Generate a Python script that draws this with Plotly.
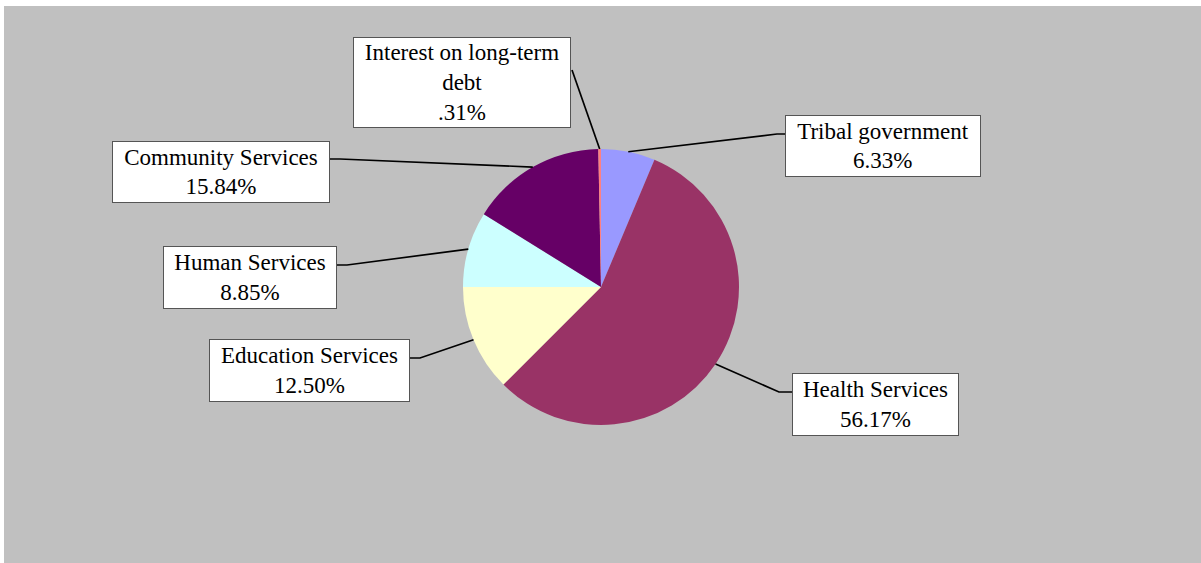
import math
import textwrap
import plotly.graph_objects as go

# ---- data (clockwise from 12 o'clock) ----
categories = ["Tribal government", "Health Services", "Education Services",
              "Human Services", "Community Services", "Interest on long-term debt"]
percent_values = [6.33, 56.17, 12.50, 8.85, 15.84, 0.31]
slice_colors = ["#9999FF", "#993366", "#FFFFCC", "#CCFFFF", "#660066", "#FF8080"]

# ---- layout constants (pixels) ----
W, H = 1201, 563
CX, CY, R = 601, 287, 138
FONT = "Liberation Serif"
FS = 23

# label boxes: (center_x, center_y, width, height) and leader elbow points
label_boxes = {
    "Tribal government": (883, 146, 196, 62),
    "Health Services": (875.5, 404.5, 167, 63),
    "Education Services": (309.5, 370.5, 201, 63),
    "Human Services": (250, 277.5, 174, 63),
    "Community Services": (221, 172, 218, 62),
    "Interest on long-term debt": (462, 82.5, 218, 91),
}
leader_ends = {
    "Tribal government": [(777, 134), (785, 134)],
    "Health Services": [(779, 392), (792, 392)],
    "Education Services": [(420, 358), (410, 358)],
    "Human Services": [(347, 265), (337, 265)],
    "Community Services": [(340, 159), (330, 159)],
    "Interest on long-term debt": [(572, 70)],
}


def px(x):
    return x / W


def py(y):
    return (H - y) / H


def fmt_pct(v):
    s = f"{v:.2f}"
    if s.startswith("0."):
        s = s[1:]
    return s + "%"


fig = go.Figure(go.Pie(
    labels=categories,
    values=percent_values,
    sort=False,
    direction="clockwise",
    rotation=0,
    marker=dict(colors=slice_colors, line=dict(width=0)),
    textinfo="none",
    hoverinfo="label+percent",
    showlegend=False,
    domain=dict(x=[px(CX - R), px(CX + R)], y=[py(CY + R), py(CY - R)]),
))

shapes = [
    dict(type="rect", xref="paper", yref="paper", x0=0, x1=1, y0=py(6), y1=1,
         fillcolor="white", line=dict(width=0), layer="above"),
    dict(type="rect", xref="paper", yref="paper", x0=0, x1=px(4), y0=0, y1=1,
         fillcolor="white", line=dict(width=0), layer="above"),
]
annotations = []

total = sum(percent_values)
cum = 0.0
for name, val in zip(categories, percent_values):
    mid = (cum + val / 2) / total * 2 * math.pi
    cum += val
    sx = CX + R * math.sin(mid)
    sy = CY - R * math.cos(mid)
    pts = [(sx, sy)] + leader_ends[name]
    path = "M " + " L ".join(f"{px(x):.6f},{py(y):.6f}" for x, y in pts)
    shapes.append(dict(type="path", xref="paper", yref="paper", path=path,
                       line=dict(color="black", width=1.7)))
    bx, by, bw, bh = label_boxes[name]
    text = "<br>".join(textwrap.wrap(name, 21)) + "<br>" + fmt_pct(val)
    annotations.append(dict(
        x=px(bx), y=py(by), xref="paper", yref="paper",
        xanchor="center", yanchor="middle", showarrow=False,
        text=text, align="center", valign="middle",
        width=bw - 4, height=bh - 4,
        bgcolor="white", bordercolor="#555555", borderwidth=1, borderpad=1,
        font=dict(family=FONT, size=FS, color="black"),
    ))

fig.update_layout(
    width=W, height=H,
    margin=dict(l=0, r=0, t=0, b=0),
    paper_bgcolor="#C0C0C0",
    plot_bgcolor="#C0C0C0",
    shapes=shapes,
    annotations=annotations,
)

fig.write_html("out.html",
               config={"displayModeBar": False},
               post_script="document.body.style.margin='0px';"
                           "document.body.style.overflow='hidden';")
